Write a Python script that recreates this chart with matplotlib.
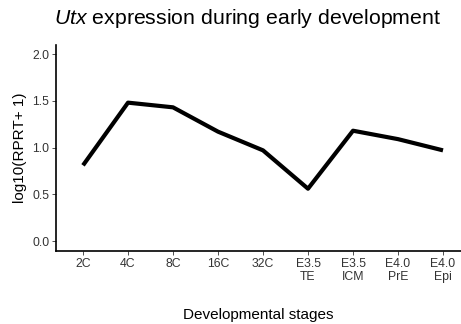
import matplotlib
matplotlib.use("Agg")
import matplotlib.pyplot as plt

plt.rcParams['font.family'] = ['Liberation Sans', 'DejaVu Sans']
plt.rcParams['mathtext.fontset'] = 'custom'
plt.rcParams['mathtext.rm'] = 'Liberation Sans'
plt.rcParams['mathtext.it'] = 'Liberation Sans:italic'

stages = ["2C", "4C", "8C", "16C", "32C", "E3.5\nTE", "E3.5\nICM", "E4.0\nPrE", "E4.0\nEpi"]
expr = [0.81, 1.48, 1.43, 1.17, 0.97, 0.56, 1.18, 1.09, 0.97]

fig = plt.figure(figsize=(4.61, 3.24), dpi=100)
ax = fig.add_axes([0.1215, 0.225, 0.8785, 0.636])
ax.plot(range(len(stages)), expr, color='black', linewidth=3, solid_capstyle='butt')

ax.set_xlim(-0.6, 8.4)
ax.set_ylim(-0.107, 2.096)
ax.set_xticks(range(len(stages)))
ax.set_xticklabels(stages, fontsize=8.8, color='#333333', linespacing=1.2)
ax.set_yticks([0.0, 0.5, 1.0, 1.5, 2.0])
ax.set_yticklabels(["0.0", "0.5", "1.0", "1.5", "2.0"], fontsize=8.8, color='#333333')
ax.tick_params(length=2.7, width=0.6, pad=2, color='#333333')
for s in ['top', 'right']:
    ax.spines[s].set_visible(False)
for s in ['left', 'bottom']:
    ax.spines[s].set_linewidth(1.2)

ax.set_xlabel("Developmental stages", fontsize=11, labelpad=17.5)
ax.set_ylabel("log10(RPRT+ 1)", fontsize=11, labelpad=4)
fig.text(0.537, 0.926, r"$\it{Utx}$ expression during early development",
         fontsize=15.3, ha='center', va='baseline')

fig.savefig("out.png", dpi=100)
